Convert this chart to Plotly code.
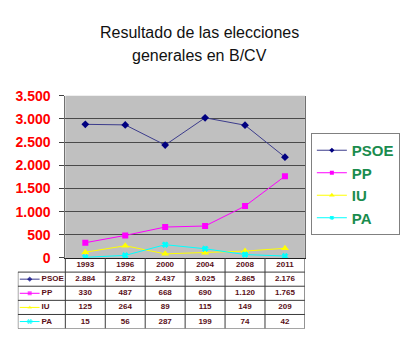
import plotly.graph_objects as go

years = ["1993", "1996", "2000", "2004", "2008", "2011"]
parties = ["PSOE", "PP", "IU", "PA"]
psoe = [2884, 2872, 2437, 3025, 2865, 2176]
pp = [330, 487, 668, 690, 1120, 1765]
iu = [125, 264, 89, 115, 149, 209]
pa = [15, 56, 287, 199, 74, 42]
y_ticks = [0, 500, 1000, 1500, 2000, 2500, 3000, 3500]
title_lines = ["Resultado de las elecciones", "generales en B/CV"]

series = [psoe, pp, iu, pa]
styles = [
    dict(color="#000080", line="#3c3c8c", symbol="diamond", size=6),
    dict(color="#ff00ff", line="#ff00ff", symbol="square", size=6),
    dict(color="#ffff00", line="#ffff00", symbol="triangle-up", size=7),
    dict(color="#00ffff", line="#00ffff", symbol="x", size=5),
]

W, H = 400, 349
FONT = "Liberation Sans, Arial, sans-serif"
TXT = "#5a0f18"

# pixel layout
px_l, px_r, px_t, px_b = 66, 308, 92, 262
tbl_l, tbl_b = 18, 336
cat_w = (px_r - px_l) / len(years)
x2_min = -0.5 - (px_l - tbl_l) / cat_w

def fx(p):
    return p / W

def fy(p):
    return 1 - p / H

def mline(st):
    return dict(width=1, color=st["color"]) if st["symbol"] == "x" else dict(width=0)

fig = go.Figure()

for name, vals, st in zip(parties, series, styles):
    fig.add_trace(go.Scatter(
        x=years, y=vals, name=name, mode="lines+markers", showlegend=False,
        line=dict(color=st["line"], width=1),
        marker=dict(color=st["color"], symbol=st["symbol"], size=st["size"], line=mline(st)),
        xaxis="x", yaxis="y",
    ))

# legend-only entries with smaller keys
for name, st in zip(parties, styles):
    fig.add_trace(go.Scatter(
        x=[None], y=[None], name=name, mode="lines+markers", showlegend=True,
        line=dict(color=st["line"], width=1),
        marker=dict(color=st["color"], symbol=st["symbol"], size=st["size"] - 2, line=mline(st)),
        xaxis="x", yaxis="y",
    ))

# table: header (years)
idx = list(range(len(years)))
fig.add_trace(go.Scatter(
    x=idx, y=[0.5] * len(years), text=years, mode="text",
    textfont=dict(family=FONT, size=8, color=TXT, weight="bold"),
    showlegend=False, hoverinfo="skip", xaxis="x2", yaxis="y2"))

def fmt(v):
    return f"{v:,}".replace(",", ".")

k0 = x2_min + 2 / cat_w
k1 = x2_min + 22 / cat_w
km = (k0 + k1) / 2
lab_x = x2_min + 24 / cat_w
for r, (name, vals, st) in enumerate(zip(parties, series, styles), start=1):
    fig.add_trace(go.Scatter(
        x=idx, y=[r + 0.5] * len(vals), text=[fmt(v) for v in vals], mode="text",
        textfont=dict(family=FONT, size=8, color=TXT, weight="bold"),
        showlegend=False, hoverinfo="skip", xaxis="x2", yaxis="y2"))
    fig.add_trace(go.Scatter(
        x=[k0, km, k1], y=[r + 0.5] * 3, mode="lines+markers",
        line=dict(color=st["line"], width=1),
        marker=dict(color=st["color"], symbol=st["symbol"], size=[0, 4, 0], line=mline(st)),
        showlegend=False, hoverinfo="skip", xaxis="x2", yaxis="y2"))
    fig.add_trace(go.Scatter(
        x=[lab_x], y=[r + 0.5], text=[name], mode="text", textposition="middle right",
        textfont=dict(family=FONT, size=8, color=TXT, weight="bold"),
        showlegend=False, hoverinfo="skip", xaxis="x2", yaxis="y2"))

shapes = [dict(type="rect", xref="x domain", yref="y domain", x0=0, x1=1, y0=0, y1=1,
               fillcolor="#c0c0c0", line=dict(width=0), layer="below")]
GC = "#3a3a3a"
nrows = len(parties) + 1
x2_max = len(years) - 0.5
for r in range(1, nrows + 1):
    shapes.append(dict(type="line", xref="x2", yref="y2", x0=x2_min, x1=x2_max, y0=r, y1=r,
                       line=dict(color=GC, width=1)))
for c in range(len(years) + 1):
    shapes.append(dict(type="line", xref="x2", yref="y2", x0=c - 0.5, x1=c - 0.5, y0=0, y1=nrows,
                       line=dict(color=GC, width=1)))
shapes.append(dict(type="line", xref="x2", yref="y2", x0=x2_min, x1=x2_min, y0=1, y1=nrows,
                   line=dict(color=GC, width=1)))

annotations = [
    dict(text=t, x=0.505, y=fy(py), xref="paper", yref="paper", showarrow=False,
         xanchor="center", yanchor="middle", font=dict(family=FONT, size=16, color="#111111"))
    for t, py in zip(title_lines, [26, 50])
]

fig.update_layout(
    width=W, height=H, margin=dict(l=0, r=0, t=0, b=0),
    paper_bgcolor="white", plot_bgcolor="white",
    separators=",.",
    showlegend=True,
    legend=dict(x=fx(314), y=fy(131), xanchor="left", yanchor="top",
                bgcolor="white", bordercolor="#808080", borderwidth=1,
                font=dict(family=FONT, size=15, color="#1a8c4e", weight="bold"),
                tracegroupgap=0, itemwidth=30),
    xaxis=dict(domain=[fx(px_l), fx(px_r)], range=[-0.5, len(years) - 0.5],
               type="category", showticklabels=False, ticks="", showgrid=False,
               showline=True, linecolor="#202020", linewidth=1, zeroline=False,
               anchor="y", fixedrange=True),
    yaxis=dict(domain=[fy(px_b), fy(px_t)], range=[0, 3500], tickvals=y_ticks,
               tickformat=",d", showgrid=True, gridcolor="#4a4a4a", gridwidth=1,
               showline=True, linecolor="#707070", mirror=True, linewidth=1,
               ticks="outside", ticklen=5, tickcolor="#404040",
               tickfont=dict(family=FONT, size=14, color="#ff0000", weight="bold"),
               ticklabelstandoff=6, zeroline=False, anchor="x", fixedrange=True),
    xaxis2=dict(domain=[fx(tbl_l), fx(px_r)], range=[x2_min, x2_max], visible=False,
                anchor="y2", fixedrange=True),
    yaxis2=dict(domain=[fy(tbl_b), fy(px_b)], range=[nrows, 0], visible=False,
                anchor="x2", fixedrange=True),
    shapes=shapes,
    annotations=annotations,
)

fig.write_html("out.html")
